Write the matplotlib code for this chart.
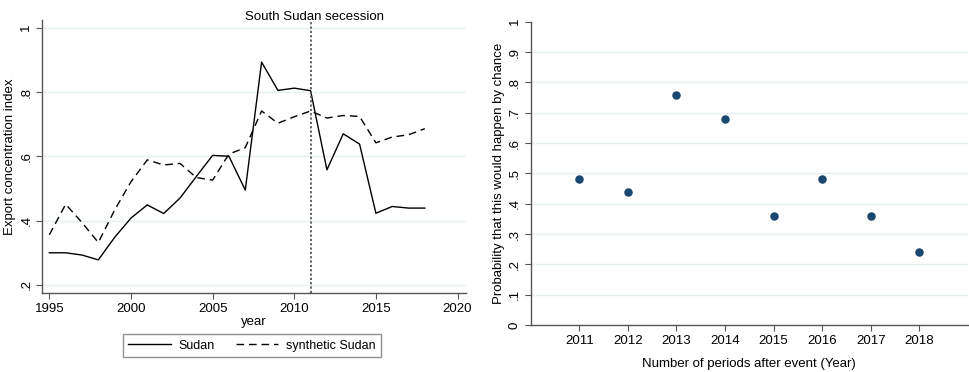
import numpy as np
import matplotlib.pyplot as plt

plt.rcParams['font.family'] = ['Liberation Sans', 'DejaVu Sans']

# export concentration index, Sudan vs synthetic Sudan
years = list(range(1995, 2019))
sudan = [0.300, 0.300, 0.293, 0.278, 0.348, 0.408, 0.449, 0.422, 0.470, 0.537,
         0.603, 0.600, 0.495, 0.893, 0.805, 0.812, 0.804, 0.558, 0.670, 0.638,
         0.423, 0.444, 0.439, 0.439]
synth = [0.356, 0.451, 0.394, 0.332, 0.433, 0.521, 0.589, 0.573, 0.578, 0.534,
         0.526, 0.607, 0.627, 0.741, 0.703, 0.723, 0.741, 0.719, 0.727, 0.724,
         0.642, 0.660, 0.667, 0.686]
event_year = 2011

# placebo p-values after event
post_years = [2011, 2012, 2013, 2014, 2015, 2016, 2017, 2018]
pvals = [0.48, 0.44, 0.76, 0.68, 0.36, 0.48, 0.36, 0.24]

grid_col = '#e6eff1'
spine_col = '#555555'
fs = 9.5

fig = plt.figure(figsize=(9.7, 3.72), dpi=100)

# left panel: paths
ax1 = fig.add_axes([0.0433, 0.2124, 0.4368, 0.7339])
ax1.plot(years, sudan, color='black', lw=1.0, label='Sudan')
ax1.plot(years, synth, color='black', lw=1.0, ls=(0, (5.5, 3.5)), label='synthetic Sudan')
ax1.axvline(event_year, color='#555555', lw=1.3, ls=(0, (1.2, 1.2)))
ax1.text(event_year + 0.25, 1.033, 'South Sudan secession', ha='center', va='center',
         fontsize=fs, clip_on=False)
ax1.set_xlim(1994.55, 2020.5)
ax1.set_ylim(0.175, 1.024)
ax1.set_xticks([1995, 2000, 2005, 2010, 2015, 2020])
ax1.set_yticks([0.2, 0.4, 0.6, 0.8, 1.0])
ax1.set_yticklabels(['.2', '.4', '.6', '.8', '1'], rotation=90, va='center')
ax1.set_xlabel('year', fontsize=fs, labelpad=1)
ax1.set_ylabel('Export concentration index', fontsize=fs, labelpad=3)
ax1.legend(loc='upper center', bbox_to_anchor=(0.495, -0.150), borderaxespad=0,
           ncol=2, frameon=True, fancybox=False, edgecolor='#777777', fontsize=9,
           handlelength=3.4, columnspacing=1.7, borderpad=0.45, handletextpad=0.6)

# right panel: p-values
ax2 = fig.add_axes([0.5471, 0.1263, 0.4508, 0.8153])
ax2.scatter(post_years, pvals, s=26, color='#1a476f', zorder=3)
ax2.set_xlim(2010, 2019)
ax2.set_ylim(0, 1)
ax2.set_xticks(post_years)
ax2.set_yticks(np.arange(0, 11) / 10)
ax2.set_yticklabels(['0', '.1', '.2', '.3', '.4', '.5', '.6', '.7', '.8', '.9', '1'],
                    rotation=90, va='center')
ax2.set_xlabel('Number of periods after event (Year)', fontsize=fs, labelpad=8)
ax2.set_ylabel('Probability that this would happen by chance', fontsize=fs, labelpad=3)

for ax in (ax1, ax2):
    for s in ('top', 'right'):
        ax.spines[s].set_visible(False)
    for s in ('left', 'bottom'):
        ax.spines[s].set_color(spine_col)
        ax.spines[s].set_linewidth(1.0)
    ax.tick_params(labelsize=fs, length=4, width=0.8, color=spine_col, pad=3)
    ax.set_axisbelow(True)

for y in [0.2, 0.4, 0.6, 0.8, 1.0]:
    ax1.axhline(y, color=grid_col, lw=1.0, zorder=0)
for y in np.arange(1, 10) / 10:
    ax2.axhline(y, color=grid_col, lw=1.0, zorder=0)

fig.savefig('out.png', dpi=100)
